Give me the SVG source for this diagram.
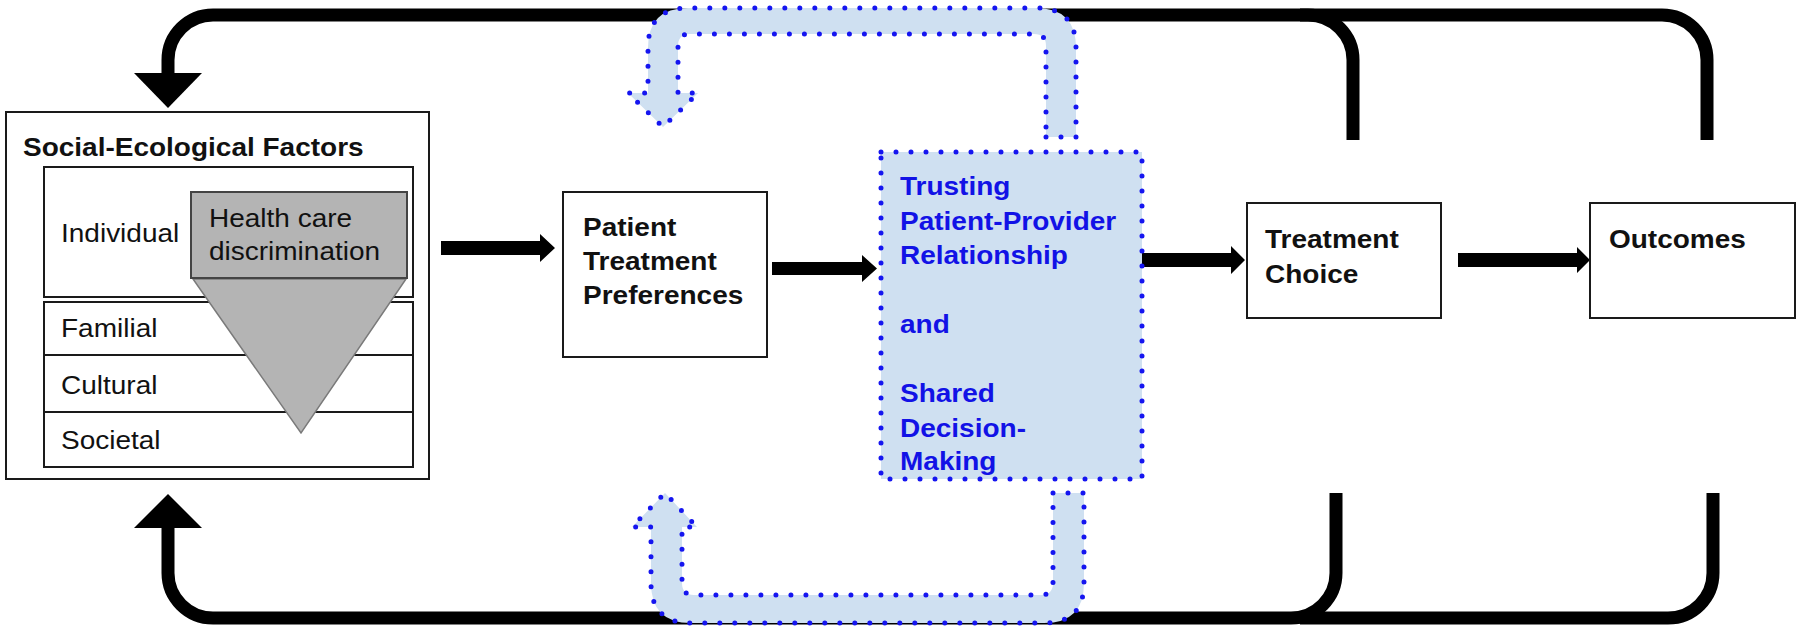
<svg xmlns="http://www.w3.org/2000/svg" width="1800" height="633" viewBox="0 0 1800 633">
<style>
.box{fill:#fff;stroke:#1a1a1a;stroke-width:2}
.t{font-family:"Liberation Sans",Arial,sans-serif;font-size:25px;fill:#111}
.b{font-weight:bold}
.blue{fill:#1212e6}
.line{fill:none;stroke:#000;stroke-width:13;stroke-linecap:butt}
.band{fill:#cfe0f1;stroke:#1515f0;stroke-width:5;stroke-dasharray:0 15;stroke-linecap:round;stroke-linejoin:round}
.arr{fill:#000}
</style>
<rect width="1800" height="633" fill="#fff"/>
<g id="connectors">
  <path class="line" d="M1353 140 V60 A45 45 0 0 0 1308 15 H213 A45 45 0 0 0 168 60 V75"/>
  <path class="line" d="M1707 140 V60 A45 45 0 0 0 1662 15 H1300"/>
  <path class="line" d="M1336 493 V573 A45 45 0 0 1 1291 618 H213 A45 45 0 0 1 168 573 V526"/>
  <path class="line" d="M1713 493 V573 A45 45 0 0 1 1668 618 H1300"/>
  <polygon class="arr" points="134,73 202,73 168,108"/>
  <polygon class="arr" points="134,528 202,528 168,494"/>
  <path class="arr" d="M441 241 H540 V234 L555 248 L540 262 V255 H441 Z"/>
  <path class="arr" d="M772 262 H862 V255 L877 268.5 L862 282 V275 H772 Z"/>
  <path class="arr" d="M1142 253 H1231 V246 L1245 260 L1231 274 V267 H1142 Z"/>
  <path class="arr" d="M1458 253 H1577 V247 L1590 260 L1577 273 V267 H1458 Z"/>
  <path class="band" d="M1046 137 L1076 137 L1076 48 Q1076 8 1036 8 L688 8 Q648 8 648 48 L648 93 L628 93 L663 127 L698 93 L678 93 L678 46 Q678 34 690 34 L1034 34 Q1046 34 1046 46 Z"/>
  <path class="band" d="M1053 493 L1084 493 L1084 583 Q1084 623 1044 623 L691 623 Q651 623 651 583 L651 527 L632 527 L665 493 L697 527 L682 527 L682 583 Q682 595 694 595 L1041 595 Q1053 595 1053 583 Z"/>
</g>
<g id="social-ecological">
  <rect class="box" x="6" y="112" width="423" height="367"/>
  <text class="t b" transform="translate(23 0) scale(1.12 1)" x="0" y="156">Social-Ecological Factors</text>
</g>
<g id="individual">
  <rect class="box" x="44" y="167" width="369" height="130"/>
  <text class="t" transform="translate(61 0) scale(1.12 1)" x="0" y="242">Individual</text>
</g>
<g id="familial">
  <rect class="box" x="44" y="302" width="369" height="53"/>
  <text class="t" transform="translate(61 0) scale(1.12 1)" x="0" y="337">Familial</text>
</g>
<g id="cultural">
  <rect class="box" x="44" y="355" width="369" height="57"/>
  <text class="t" transform="translate(61 0) scale(1.12 1)" x="0" y="394">Cultural</text>
</g>
<g id="societal">
  <rect class="box" x="44" y="412" width="369" height="55"/>
  <text class="t" transform="translate(61 0) scale(1.12 1)" x="0" y="449">Societal</text>
</g>
<g id="discrimination">
  <polygon points="193,279 406,279 301,433" fill="#b4b4b4" stroke="#7a7a7a" stroke-width="1.5"/>
  <rect x="191" y="192" width="216" height="86" fill="#b4b4b4" stroke="#444" stroke-width="2"/>
  <text class="t" transform="translate(209 0) scale(1.12 1)"><tspan x="0" y="227">Health care</tspan><tspan x="0" y="260">discrimination</tspan></text>
</g>
<g id="preferences">
  <rect class="box" x="563" y="192" width="204" height="165"/>
  <text class="t b" transform="translate(583 0) scale(1.12 1)"><tspan x="0" y="236">Patient</tspan><tspan x="0" y="270">Treatment</tspan><tspan x="0" y="304">Preferences</tspan></text>
</g>
<g id="relationship">
  <rect class="band" x="881" y="152" width="261" height="327"/>
  <text class="t b blue" transform="translate(900 0) scale(1.12 1)"><tspan x="0" y="195">Trusting</tspan><tspan x="0" y="230">Patient-Provider</tspan><tspan x="0" y="264">Relationship</tspan><tspan x="0" y="333">and</tspan><tspan x="0" y="402">Shared</tspan><tspan x="0" y="437">Decision-</tspan><tspan x="0" y="470">Making</tspan></text>
</g>
<g id="treatment-choice">
  <rect class="box" x="1247" y="203" width="194" height="115"/>
  <text class="t b" transform="translate(1265 0) scale(1.12 1)"><tspan x="0" y="248">Treatment</tspan><tspan x="0" y="283">Choice</tspan></text>
</g>
<g id="outcomes">
  <rect class="box" x="1590" y="203" width="205" height="115"/>
  <text class="t b" transform="translate(1609 0) scale(1.12 1)" x="0" y="248">Outcomes</text>
</g>
</svg>
